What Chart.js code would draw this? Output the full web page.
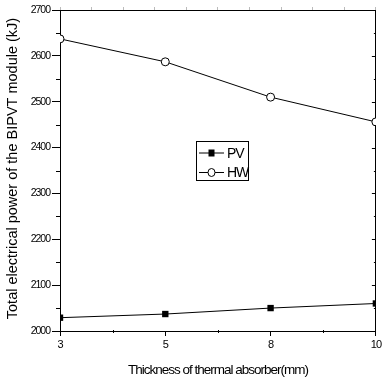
<!DOCTYPE html>
<html>
<head>
<meta charset="utf-8">
<script src="https://cdn.jsdelivr.net/npm/chart.js@4"></script>
<style>
html,body{margin:0;padding:0;background:#fff;}
#wrap{width:384px;height:383px;position:relative;}
</style>
</head>
<body>
<div id="wrap"><canvas id="c"></canvas></div>
<script>
const categories = ['3', '5', '8', '10'];
const pvValues = [2029, 2037, 2050, 2060];
const hwValues = [2637, 2587, 2510, 2456];
const seriesNames = ['PV', 'HW'];
const yMin = 2000, yMax = 2700, yStep = 100;
const xTitle = 'Thickness of thermal absorber(mm)';
const yTitle = 'Total electrical power of the BIPVT module (kJ)';

const FONT = '"Liberation Sans", Arial, sans-serif';

const extras = {
  id: 'extras',
  beforeDraw(chart) {
    chart.ctx.letterSpacing = '-1px';
  },
  afterDraw(chart) {
    const ctx = chart.ctx;
    const a = chart.chartArea;
    const y = chart.scales.y;
    const x = chart.scales.x;
    ctx.save();
    ctx.strokeStyle = '#000';
    ctx.lineWidth = 1;
    y.ticks.forEach((t, i) => {
      const py = Math.round(y.getPixelForValue(t.value)) + 0.5;
      ctx.beginPath();
      ctx.moveTo(a.right, py); ctx.lineTo(a.right - 4, py); ctx.stroke();
      if (i < y.ticks.length - 1) {
        const mv = (t.value + y.ticks[i + 1].value) / 2;
        const my = Math.round(y.getPixelForValue(mv)) + 0.5;
        ctx.beginPath();
        ctx.moveTo(a.left - 4, my); ctx.lineTo(a.left, my); ctx.stroke();
        ctx.beginPath();
        ctx.moveTo(a.right, my); ctx.lineTo(a.right - 2, my); ctx.stroke();
      }
    });
    for (let i = 0; i < categories.length - 1; i++) {
      const mx = Math.round((x.getPixelForValue(i) + x.getPixelForValue(i + 1)) / 2) + 0.5;
      ctx.beginPath();
      ctx.moveTo(mx, a.bottom - 1); ctx.lineTo(mx, a.bottom + 2); ctx.stroke();
    }
    ctx.letterSpacing = '0px';
    ctx.fillStyle = '#000';
    ctx.font = '14.5px ' + FONT;
    ctx.textAlign = 'center';
    ctx.textBaseline = 'middle';
    ctx.translate(13, (a.top + a.bottom) / 2 - 2);
    ctx.rotate(-Math.PI / 2);
    ctx.fillText(yTitle, 0, 0);
    ctx.restore();

    ctx.save();
    const bx = 196, by = 141, bw = 52, bh = 39;
    ctx.strokeStyle = '#000';
    ctx.lineWidth = 1;
    ctx.strokeRect(bx + 0.5, by + 0.5, bw, bh);
    chart.data.datasets.forEach((ds, i) => {
      const ry = by + 12 + i * 19.5;
      ctx.beginPath();
      ctx.moveTo(bx + 3, ry); ctx.lineTo(bx + 28, ry); ctx.stroke();
      const mx = bx + 15.5;
      ctx.fillStyle = ds.backgroundColor;
      ctx.strokeStyle = ds.borderColor;
      if (ds.pointStyle === 'rect') {
        ctx.fillRect(mx - 3, ry - 3.5, 6, 7);
      } else {
        ctx.beginPath();
        ctx.ellipse(mx, ry, 3.5, 4, 0, 0, Math.PI * 2);
        ctx.fill(); ctx.stroke();
      }
      ctx.fillStyle = '#000';
      ctx.letterSpacing = '-1px';
      ctx.font = '14px ' + FONT;
      ctx.textAlign = 'left';
      ctx.textBaseline = 'middle';
      ctx.fillText(ds.label, bx + 31, ry + 1);
    });
    ctx.restore();
  }
};

new Chart(document.getElementById('c'), {
  type: 'line',
  data: {
    labels: categories,
    datasets: [
      { label: seriesNames[0], data: pvValues, borderColor: '#000', backgroundColor: '#000',
        borderWidth: 1, pointStyle: 'rect', pointRadius: 4.5, pointBorderWidth: 0,
        pointBackgroundColor: '#000', tension: 0, clip: 0 },
      { label: seriesNames[1], data: hwValues, borderColor: '#000', backgroundColor: '#fff',
        borderWidth: 1, pointStyle: 'circle', pointRadius: 4, pointBorderWidth: 1,
        pointBackgroundColor: '#fff', tension: 0, clip: 0 }
    ]
  },
  options: {
    responsive: true,
    maintainAspectRatio: false,
    animation: false,
    layout: { padding: 0 },
    plugins: { legend: { display: false }, tooltip: { enabled: false } },
    scales: {
      x: {
        type: 'category', position: 'bottom', offset: false,
        grid: { drawOnChartArea: false, drawTicks: true, tickLength: 5, color: '#000', offset: false },
        border: { color: '#000', width: 1 },
        ticks: { color: '#000', font: { family: FONT, size: 11 }, padding: 2, maxRotation: 0 },
        title: { display: true, text: xTitle, color: '#000', font: { family: FONT, size: 13.5 }, padding: { top: 2, bottom: 5 } },
        afterFit(s) { s.height = 52; }
      },
      x2: {
        type: 'linear', position: 'top', min: 0, max: 10,
        ticks: { display: false, stepSize: 1 },
        grid: { drawOnChartArea: false, drawTicks: true, tickLength: 3, color: '#bbb' },
        border: { color: '#000', width: 1 },
        afterFit(s) { s.height = 10; }
      },
      y: {
        type: 'linear', position: 'left', min: yMin, max: yMax,
        ticks: { stepSize: yStep, color: '#000', font: { family: FONT, size: 10.5 }, padding: 2,
                 callback: (v) => String(v) },
        grid: { drawOnChartArea: false, drawTicks: true, tickLength: 8, color: '#000' },
        border: { color: '#000', width: 1 },
        title: { display: false },
        afterFit(s) { s.width = 60; }
      },
      y2: {
        type: 'linear', position: 'right', min: yMin, max: yMax,
        ticks: { display: false },
        grid: { drawOnChartArea: false, drawTicks: false },
        border: { color: '#000', width: 1 },
        afterFit(s) { s.width = 8; }
      }
    }
  },
  plugins: [extras]
});
</script>
</body>
</html>
